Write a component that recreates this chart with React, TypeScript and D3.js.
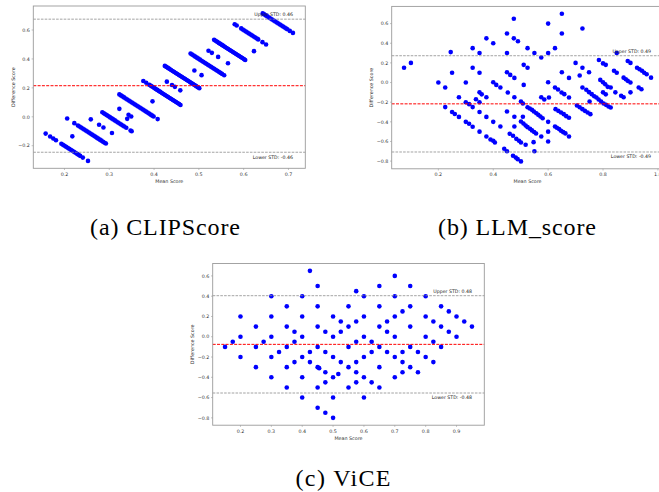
import React from "react";
import * as d3 from "d3";

// ---------- (a) CLIPScore : human score levels and the CLIPScore values paired with them ----------
const clipHumanLevels = [0.1, 0.15, 0.2, 0.25, 0.3, 0.333, 0.35, 0.4, 0.45, 0.5, 0.55, 0.6, 0.65, 0.7, 0.75, 0.8, 0.85, 0.9, 1.0];
const clipModelScores: number[][] = [
  [0.216, 0.236, 0.25, 0.262, 0.286, 0.293, 0.3, 0.307, 0.314, 0.321, 0.328, 0.335, 0.342, 0.349, 0.356, 0.363, 0.37, 0.382, 0.405],
  [0.285],
  [0.212, 0.244, 0.26, 0.267, 0.274, 0.281, 0.288, 0.295, 0.302, 0.309, 0.316, 0.323, 0.33, 0.337, 0.344, 0.351, 0.358, 0.365, 0.372, 0.379, 0.385],
  [0.2675, 0.3045, 0.324, 0.362],
  [0.269, 0.276, 0.283, 0.29, 0.297, 0.304, 0.311, 0.318, 0.325, 0.332, 0.339, 0.346, 0.353, 0.36, 0.367, 0.376, 0.395, 0.4],
  [0.347],
  [0.295, 0.336, 0.348],
  [0.245, 0.252, 0.259, 0.266, 0.273, 0.28, 0.287, 0.294, 0.301, 0.308, 0.315, 0.322, 0.329, 0.336, 0.343, 0.35, 0.357, 0.364, 0.371, 0.378, 0.385, 0.392, 0.398, 0.416],
  [0.343],
  [0.252, 0.265, 0.279, 0.286, 0.293, 0.3, 0.307, 0.314, 0.321, 0.328, 0.335, 0.342, 0.349, 0.356, 0.363, 0.37, 0.377, 0.384, 0.391, 0.398, 0.405, 0.412, 0.418],
  [0.307, 0.33, 0.343, 0.367],
  [0.248, 0.255, 0.262, 0.269, 0.276, 0.283, 0.29, 0.297, 0.304, 0.311, 0.318, 0.325, 0.332, 0.339, 0.346, 0.353, 0.36, 0.367, 0.374, 0.381, 0.388, 0.395, 0.402],
  [0.33, 0.362],
  [0.263, 0.27, 0.277, 0.284, 0.291, 0.298, 0.305, 0.312, 0.319, 0.326, 0.333, 0.34, 0.347, 0.354, 0.361, 0.368, 0.375, 0.382, 0.389, 0.396, 0.403, 0.413],
  [0.293, 0.308, 0.336, 0.38],
  [0.268, 0.275, 0.282, 0.289, 0.296, 0.303, 0.31, 0.317, 0.324, 0.331, 0.338, 0.345, 0.352, 0.359, 0.366, 0.373, 0.38, 0.387, 0.394, 0.401, 0.407],
  [0.396],
  [0.26, 0.269, 0.289, 0.296, 0.303, 0.31, 0.317, 0.324, 0.331, 0.338, 0.345, 0.352, 0.359, 0.365, 0.384, 0.4],
  [0.285, 0.292, 0.299, 0.306, 0.313, 0.32, 0.327, 0.334, 0.341, 0.348, 0.355, 0.362, 0.369, 0.376, 0.383, 0.39, 0.395, 0.406, 0.42],
];
const clipMeanDiff = 0.215;
const clipLoA = 0.46;
const clipXTicks = [0.2, 0.3, 0.4, 0.5, 0.6, 0.7];
const clipYTicks = [-0.2, 0.0, 0.2, 0.4, 0.6];

// ---------- (b) LLM_score : [mean score, difference score] ----------
const llmPoints: [number, number][] = [
  [0.075, 0.15], [0.10, 0.20], [0.20, 0.0], [0.225, -0.05], [0.225, -0.25], [0.245, 0.31], [0.25, 0.10], [0.25, -0.30],
  [0.26, -0.32], [0.275, -0.15], [0.275, -0.35], [0.30, 0.0], [0.30, -0.20], [0.30, -0.40], [0.312, -0.22], [0.312, -0.42],
  [0.325, 0.35], [0.325, 0.15], [0.325, -0.25], [0.325, -0.45], [0.337, -0.17], [0.35, 0.30], [0.35, 0.10], [0.35, -0.10],
  [0.358, -0.12], [0.35, -0.20], [0.35, -0.30], [0.35, -0.50], [0.375, 0.45], [0.375, -0.15], [0.375, -0.35], [0.375, -0.55],
  [0.39, -0.58],
  [0.40, 0.40], [0.45, 0.50], [0.45, 0.30], [0.475, 0.65], [0.475, 0.45], [0.49, 0.42], [0.525, 0.35], [0.55, 0.30],
  [0.60, 0.30], [0.625, 0.35], [0.60, 0.60], [0.65, 0.70], [0.65, 0.50], [0.725, 0.55],
  [0.575, 0.255], [0.70, 0.20], [0.785, 0.23], [0.80, 0.195], [0.81, 0.18], [0.511, 0.18], [0.525, 0.15], [0.725, 0.15],
  [0.45, 0.105], [0.462, 0.078], [0.477, 0.047], [0.65, 0.105], [0.749, 0.105], [0.676, 0.047], [0.715, 0.071],
  [0.79, 0.027], [0.80, 0.003], [0.808, -0.017], [0.817, -0.044], [0.40, 0.003], [0.411, -0.024], [0.426, -0.051],
  [0.511, -0.024], [0.60, 0.003], [0.625, -0.051], [0.636, -0.071], [0.649, -0.102], [0.659, -0.118], [0.453, -0.102],
  [0.676, -0.152], [0.725, -0.051],
  [0.739, -0.074], [0.749, -0.098], [0.759, -0.118], [0.768, -0.139], [0.776, -0.152], [0.784, -0.173], [0.793, -0.193],
  [0.802, -0.213], [0.811, -0.227], [0.82, -0.244], [0.828, -0.254],
  [0.575, -0.149], [0.586, -0.173], [0.477, -0.149], [0.603, -0.152], [0.501, -0.193], [0.508, -0.213],
  [0.525, -0.251], [0.533, -0.264], [0.541, -0.278], [0.548, -0.295], [0.557, -0.312], [0.564, -0.329], [0.572, -0.346], [0.58, -0.363],
  [0.751, -0.193],
  [0.705, -0.234], [0.715, -0.251], [0.725, -0.271], [0.734, -0.288], [0.744, -0.305], [0.754, -0.322],
  [0.627, -0.271], [0.637, -0.288], [0.647, -0.305], [0.657, -0.322], [0.666, -0.342], [0.676, -0.359],
  [0.45, -0.295], [0.477, -0.349], [0.508, -0.349], [0.40, -0.40],
  [0.501, -0.396], [0.51, -0.417], [0.518, -0.437], [0.525, -0.454], [0.534, -0.471], [0.541, -0.487], [0.549, -0.503], [0.556, -0.519],
  [0.426, -0.447], [0.477, -0.447], [0.60, -0.40], [0.60, -0.50], [0.60, -0.60],
  [0.625, -0.447], [0.632, -0.461], [0.64, -0.474], [0.647, -0.491], [0.655, -0.505], [0.663, -0.518], [0.676, -0.549],
  [0.575, -0.549], [0.46, -0.522], [0.472, -0.542], [0.40, -0.593], [0.406, -0.61], [0.484, -0.573], [0.494, -0.593],
  [0.501, -0.61], [0.518, -0.634], [0.547, -0.607], [0.44, -0.674], [0.45, -0.70], [0.55, -0.70],
  [0.472, -0.746], [0.482, -0.763], [0.489, -0.78], [0.501, -0.803],
  [0.85, 0.30], [0.89, 0.22], [0.90, 0.20], [0.924, 0.15], [0.933, 0.136], [0.942, 0.12], [0.95, 0.10], [0.959, 0.085],
  [0.975, 0.05], [0.84, 0.12], [0.85, 0.10], [0.875, 0.05], [0.883, 0.034], [0.89, 0.017], [0.90, 0.0], [0.828, -0.05],
  [0.845, -0.10], [0.866, -0.135], [0.875, -0.15], [0.90, -0.10], [0.93, -0.05], [0.94, -0.068], [0.80, -0.10], [0.81, -0.12],
];
const llmMeanDiff = -0.217;
const llmLoA = 0.49;
const llmXTicks = [0.2, 0.4, 0.6, 0.8, 1.0];
const llmYTicks = [-0.8, -0.6, -0.4, -0.2, 0.0, 0.2, 0.4, 0.6];

// ---------- (c) ViCE : [mean score, difference score] ----------
const vicePoints: [number, number][] = [
  [0.15, -0.1], [0.175, -0.05], [0.2, 0.2], [0.2, 0.0], [0.2, -0.2], [0.25, 0.1], [0.25, -0.1], [0.25, -0.3], [0.275, -0.05],
  [0.3, 0.4], [0.3, 0.2], [0.3, 0.0], [0.3, -0.2], [0.3, -0.4], [0.325, -0.15], [0.35, 0.3], [0.35, 0.1], [0.35, -0.1],
  [0.35, -0.3], [0.35, -0.5], [0.375, 0.05], [0.375, -0.05], [0.375, -0.25], [0.4, 0.4], [0.4, 0.2], [0.4, 0.0], [0.4, -0.2],
  [0.4, -0.4], [0.4, -0.6], [0.425, 0.65], [0.425, -0.15], [0.425, -0.25], [0.45, 0.5], [0.45, 0.3], [0.45, 0.1], [0.45, -0.1],
  [0.45, -0.3], [0.455, -0.31], [0.45, -0.5], [0.45, -0.7], [0.475, 0.05], [0.475, -0.15], [0.475, -0.35], [0.475, -0.45],
  [0.475, -0.75], [0.5, 0.2], [0.5, 0.0], [0.5, -0.2], [0.5, -0.4], [0.5, -0.6], [0.5, -0.8], [0.517, -0.367], [0.525, 0.15],
  [0.525, 0.05], [0.525, -0.25], [0.55, 0.3], [0.55, 0.1], [0.55, -0.1], [0.55, -0.3], [0.55, -0.5], [0.575, 0.45],
  [0.575, 0.15], [0.575, -0.05], [0.575, -0.25], [0.575, -0.35], [0.575, -0.45], [0.6, 0.4], [0.6, 0.2], [0.6, 0.0],
  [0.6, -0.2], [0.6, -0.4], [0.6, -0.6], [0.625, -0.05], [0.625, -0.15], [0.625, -0.45], [0.65, 0.5], [0.65, 0.3], [0.65, 0.1],
  [0.65, -0.1], [0.65, -0.3], [0.65, -0.5], [0.675, 0.15], [0.675, 0.05], [0.675, -0.15], [0.7, 0.6], [0.7, 0.4], [0.7, 0.2],
  [0.7, 0.0], [0.7, -0.2], [0.7, -0.4], [0.725, 0.25], [0.725, -0.15], [0.725, -0.25], [0.725, -0.35], [0.75, 0.5], [0.75, 0.3],
  [0.75, 0.1], [0.75, -0.1], [0.75, -0.3], [0.775, -0.15], [0.775, -0.35], [0.8, 0.4], [0.8, 0.2], [0.8, 0.0], [0.8, -0.2],
  [0.825, 0.15], [0.825, -0.05], [0.825, -0.25], [0.85, 0.3], [0.85, 0.1], [0.85, -0.1], [0.875, 0.25], [0.875, 0.05],
  [0.9, 0.2], [0.9, 0.0], [0.925, 0.15], [0.95, 0.1],
];
const viceMeanDiff = -0.075;
const viceLoA = 0.48;
const viceXTicks = [0.2, 0.3, 0.4, 0.5, 0.6, 0.7, 0.8, 0.9];
const viceYTicks = [-0.8, -0.6, -0.4, -0.2, 0.0, 0.2, 0.4, 0.6];

const captions = ["(a) CLIPScore", "(b) LLM_score", "(c) ViCE"];

// Bland–Altman points for (a): mean = (h + m)/2, difference = h - m
const clipPoints: [number, number][] = clipHumanLevels.flatMap((h, i) =>
  clipModelScores[i].map((m) => [(h + m) / 2, h - m] as [number, number])
);

type Box = { left: number; top: number; right: number; bottom: number };

const SANS = "'DejaVu Sans', sans-serif";
const FS = 4.8;
const SPINE = "#9a9a9a";

function padded(vals: number[]): [number, number] {
  const [lo, hi] = d3.extent(vals) as [number, number];
  const p = (hi - lo) * 0.05;
  return [lo - p, hi + p];
}

const fmt = (d: number) => (d < -1e-9 ? "\u2212" : "") + Math.abs(d).toFixed(1);

function Panel(props: {
  box: Box;
  points: [number, number][];
  xTicks: number[];
  yTicks: number[];
  meanDiff: number;
  loa: number;
}) {
  const { box, points, xTicks, yTicks, meanDiff, loa } = props;
  const xs = points.map((p) => p[0]);
  const ys = points.map((p) => p[1]);
  const x = d3.scaleLinear().domain(padded(xs)).range([box.left, box.right]);
  const y = d3.scaleLinear().domain(padded(ys)).range([box.bottom, box.top]);
  const upper = meanDiff + loa;
  const lower = meanDiff - loa;
  const xMax = d3.max(xs) as number;
  const cx = (box.left + box.right) / 2;
  const cy = (box.top + box.bottom) / 2;
  const ylx = box.left - 20;
  return (
    <g>
      {points.map((p, i) => (
        <circle key={i} cx={x(p[0])} cy={y(p[1])} r={2.3} fill="#0000ff" />
      ))}
      <line x1={box.left} x2={box.right} y1={y(meanDiff)} y2={y(meanDiff)} stroke="#ff0000" strokeWidth={1} strokeDasharray="3,1.3" />
      <line x1={box.left} x2={box.right} y1={y(upper)} y2={y(upper)} stroke="#8c8c8c" strokeWidth={0.8} strokeDasharray="2.6,1.2" />
      <line x1={box.left} x2={box.right} y1={y(lower)} y2={y(lower)} stroke="#8c8c8c" strokeWidth={0.8} strokeDasharray="2.6,1.2" />
      <text x={x(xMax)} y={y(upper) - 3.1} fontFamily={SANS} fontSize={4.7} fill="#222" textAnchor="end">
        {`Upper STD: ${loa.toFixed(2)}`}
      </text>
      <text x={x(xMax)} y={y(lower) + 6.3} fontFamily={SANS} fontSize={4.7} fill="#222" textAnchor="end">
        {`Lower STD: -${loa.toFixed(2)}`}
      </text>
      <rect x={box.left} y={box.top} width={box.right - box.left} height={box.bottom - box.top} fill="none" stroke={SPINE} strokeWidth={0.9} />
      {xTicks.map((t) => (
        <g key={"x" + t}>
          <line x1={x(t)} x2={x(t)} y1={box.bottom} y2={box.bottom + 1.7} stroke={SPINE} strokeWidth={0.6} />
          <text x={x(t)} y={box.bottom + 7.3} fontFamily={SANS} fontSize={FS} fill="#333" textAnchor="middle">
            {fmt(t)}
          </text>
        </g>
      ))}
      {yTicks.map((t) => (
        <g key={"y" + t}>
          <line x1={box.left - 1.7} x2={box.left} y1={y(t)} y2={y(t)} stroke={SPINE} strokeWidth={0.6} />
          <text x={box.left - 3.4} y={y(t) + 1.7} fontFamily={SANS} fontSize={FS} fill="#333" textAnchor="end">
            {fmt(t)}
          </text>
        </g>
      ))}
      <text x={cx} y={box.bottom + 14.4} fontFamily={SANS} fontSize={FS} fill="#333" textAnchor="middle">
        Mean Score
      </text>
      <text
        x={ylx}
        y={cy}
        dy="0.35em"
        transform={`rotate(-90, ${ylx}, ${cy})`}
        fontFamily={SANS}
        fontSize={FS}
        fill="#333"
        textAnchor="middle"
      >
        Difference Score
      </text>
    </g>
  );
}

const SERIF = "'Liberation Serif', 'DejaVu Serif', serif";

export default function App() {
  return (
    <svg
      width={659}
      height={492}
      style={{ position: "absolute", left: 0, top: 0, background: "#fff" }}
      xmlns="http://www.w3.org/2000/svg"
    >
      <rect x={0} y={0} width={659} height={492} fill="#fff" />
      <Panel
        box={{ left: 33.3, top: 6, right: 305.3, bottom: 168.3 }}
        points={clipPoints}
        xTicks={clipXTicks}
        yTicks={clipYTicks}
        meanDiff={clipMeanDiff}
        loa={clipLoA}
      />
      <Panel
        box={{ left: 391.7, top: 6.4, right: 663.4, bottom: 168.8 }}
        points={llmPoints}
        xTicks={llmXTicks}
        yTicks={llmYTicks}
        meanDiff={llmMeanDiff}
        loa={llmLoA}
      />
      <Panel
        box={{ left: 212.7, top: 263.5, right: 484.3, bottom: 425.2 }}
        points={vicePoints}
        xTicks={viceXTicks}
        yTicks={viceYTicks}
        meanDiff={viceMeanDiff}
        loa={viceLoA}
      />
      <text x={165} y={234.5} fontFamily={SERIF} fontSize={24} fill="#000" textAnchor="middle" textLength={150} lengthAdjust="spacing">
        {captions[0]}
      </text>
      <text x={517} y={234.5} fontFamily={SERIF} fontSize={24} fill="#000" textAnchor="middle" textLength={158} lengthAdjust="spacing">
        {captions[1]}
      </text>
      <text x={343} y={485.5} fontFamily={SERIF} fontSize={24} fill="#000" textAnchor="middle" textLength={95} lengthAdjust="spacing">
        {captions[2]}
      </text>
    </svg>
  );
}
